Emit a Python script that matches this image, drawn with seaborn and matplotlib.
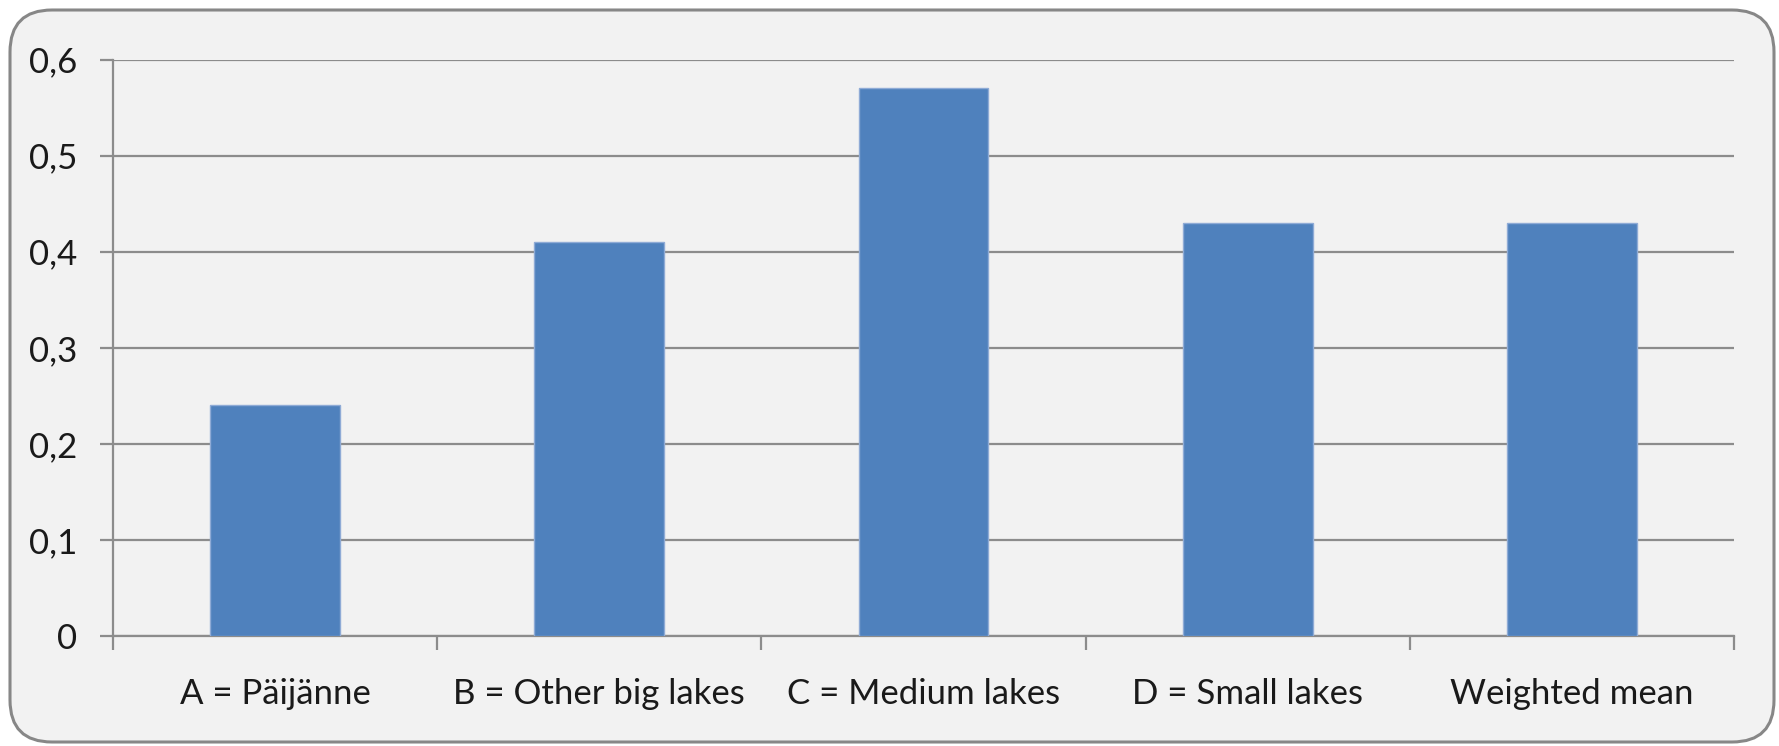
import matplotlib
matplotlib.use("Agg")
import matplotlib.pyplot as plt
from matplotlib.patches import FancyBboxPatch
from matplotlib.ticker import FixedLocator
import seaborn as sns
import pandas as pd

categories = ["A = Päijänne", "B = Other big lakes", "C = Medium lakes",
              "D = Small lakes", "Weighted mean"]
values = [0.24, 0.41, 0.57, 0.43, 0.43]
y_ticks = [0.0, 0.1, 0.2, 0.3, 0.4, 0.5, 0.6]
y_tick_labels = ["0", "0,1", "0,2", "0,3", "0,4", "0,5", "0,6"]

sns.set_style("white")
plt.rcParams["font.family"] = ["Lato", "DejaVu Sans"]

BG = "#f2f2f2"
GRID = "#8c8c8c"
BAR = "#4f81bd"

W, H = 1779, 746
fig = plt.figure(figsize=(W / 100, H / 100), dpi=100)
fig.patch.set_facecolor("white")

# background layer in pixel units holding the rounded chart frame
bg = fig.add_axes([0, 0, 1, 1], zorder=-5)
bg.set_xlim(0, W)
bg.set_ylim(0, H)
bg.axis("off")
bg.add_patch(FancyBboxPatch((10, 4), W - 15, H - 14,
                            boxstyle="round,pad=0,rounding_size=42",
                            facecolor=BG, edgecolor="#878787", linewidth=2.2))

ax = fig.add_axes([113 / W, 1 - 636 / H, (1734 - 113) / W, (636 - 59.5) / H])
ax.set_facecolor(BG)
ax.patch.set_alpha(0)

df = pd.DataFrame({"category": categories, "value": values})
sns.barplot(data=df, x="category", y="value", color=BAR, saturation=1,
            width=0.4, edgecolor="#8fabd6", linewidth=1, ax=ax, zorder=3)

ax.set_xlim(-0.5, len(categories) - 0.5)
ax.set_ylim(0, 0.6)
ax.set_yticks(y_ticks)
ax.set_yticklabels(y_tick_labels)
ax.yaxis.grid(True, color=GRID, linewidth=1.6, zorder=1)
ax.set_axisbelow(True)

ax.set_xlabel("")
ax.set_ylabel("")

for s in ["top", "right"]:
    ax.spines[s].set_visible(False)
for s in ["left", "bottom"]:
    ax.spines[s].set_color(GRID)
    ax.spines[s].set_linewidth(1.6)

ax.tick_params(axis="y", length=9.5, width=1.6, color=GRID, pad=16,
               labelsize=25, labelcolor="#1a1a1a", left=True)
ax.tick_params(axis="x", which="major", length=0, pad=30,
               labelsize=25, labelcolor="#1a1a1a")
ax.xaxis.set_minor_locator(FixedLocator([i - 0.5 for i in range(len(categories) + 1)]))
ax.tick_params(axis="x", which="minor", length=10, width=1.6, color=GRID, bottom=True)

fig.savefig("out.png", dpi=100, facecolor=fig.get_facecolor())
